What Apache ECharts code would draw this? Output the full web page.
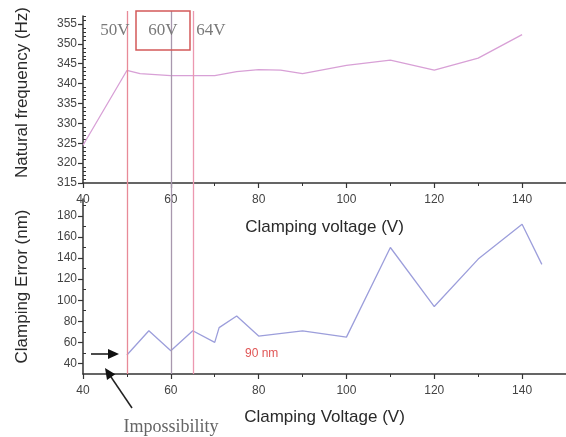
<!DOCTYPE html>
<html>
<head>
<meta charset="utf-8">
<script src="https://cdn.jsdelivr.net/npm/echarts@6/dist/echarts.min.js"></script>
<style>
html,body{margin:0;padding:0;background:#fff;}
#chart{width:566px;height:437px;}
</style>
</head>
<body>
<div id="chart"></div>
<script>
// ---- data ----
const freqVoltage = [40, 50, 53, 60, 70, 75, 80, 85, 90, 100, 110, 120, 130, 140];
const naturalFrequency = [324.5, 343.3, 342.5, 342, 342, 343, 343.5, 343.4, 342.5, 344.6, 345.9, 343.4, 346.4, 352.3];
const errVoltage = [50, 55, 60, 65, 70, 71, 75, 80, 90, 100, 110, 120, 130, 140, 144.5];
const clampingError = [48, 71, 52, 71, 60, 74, 85, 66, 71, 65, 150, 94, 139, 172, 134];
const markVoltages = [50, 60, 65];
const markLabels = ['50V', '60V', '64V'];
const xTicks = [40, 60, 80, 100, 120, 140];
const xMinorTicks = [50, 70, 90, 110, 130, 150];
const freqTicks = [315, 320, 325, 330, 335, 340, 345, 350, 355];
const freqMinorTicks = [316,317,318,319,321,322,323,324,326,327,328,329,331,332,333,334,336,337,338,339,341,342,343,344,346,347,348,349,351,352,353,354,356,357];
const errTicks = [40, 60, 80, 100, 120, 140, 160, 180];
const errMinorTicks = [50, 70, 90, 110, 130, 150, 170, 190];

const chart = echarts.init(document.getElementById('chart'));
const FONT = '"Liberation Sans", Arial, sans-serif';
const SERIF = '"Liberation Serif", "DejaVu Serif", serif';
const axisColor = '#333';
const markColors = ['#e88a98', '#a898ae', '#ec98b0'];

function majorX(gridIndex, name, gap) {
  return {
    type: 'value', gridIndex, min: 40, max: 150, position: 'bottom',
    name, nameLocation: 'middle', nameGap: gap,
    nameTextStyle: {fontFamily: FONT, fontSize: 17, color: '#2a2a2a'},
    axisLine: {show: true, onZero: false, lineStyle: {color: axisColor, width: 1.5}},
    axisTick: {show: true, length: 5, customValues: xTicks, lineStyle: {color: axisColor, width: 1.2}},
    axisLabel: {customValues: xTicks, margin: 11, fontFamily: FONT, fontSize: 12, color: '#444'},
    splitLine: {show: false}
  };
}
function minorX(gridIndex) {
  return {
    type: 'value', gridIndex, min: 40, max: 150, position: 'bottom',
    axisLine: {show: false, onZero: false},
    axisTick: {show: true, length: 3, customValues: xMinorTicks, lineStyle: {color: axisColor, width: 1}},
    axisLabel: {show: false},
    splitLine: {show: false}
  };
}
function majorY(gridIndex, min, max, ticks, name, pad) {
  return {
    type: 'value', gridIndex, min, max, position: 'left',
    name, nameLocation: 'middle', nameGap: 52, nameRotate: 90,
    nameTextStyle: {fontFamily: FONT, fontSize: 17, color: '#2a2a2a', padding: pad},
    axisLine: {show: true, onZero: false, lineStyle: {color: axisColor, width: 1.5}},
    axisTick: {show: true, length: 5, customValues: ticks, lineStyle: {color: axisColor, width: 1.2}},
    axisLabel: {customValues: ticks, margin: 6, fontFamily: FONT, fontSize: 12, color: '#444'},
    splitLine: {show: false}
  };
}
function minorY(gridIndex, min, max, ticks) {
  return {
    type: 'value', gridIndex, min, max, position: 'left',
    axisLine: {show: false, onZero: false},
    axisTick: {show: true, inside: true, length: 3, customValues: ticks, lineStyle: {color: axisColor, width: 1}},
    axisLabel: {show: false},
    splitLine: {show: false}
  };
}

const option = {
  backgroundColor: '#fff',
  animation: false,
  grid: [
    {left: 83, right: 0, top: 16, height: 167},
    {left: 83, right: 0, top: 199, height: 175},
    {left: 83, right: 0, top: 11, height: 363}
  ],
  xAxis: [
    majorX(0, 'Clamping voltage (V)', 36),
    minorX(0),
    majorX(1, 'Clamping Voltage (V)', 35),
    minorX(1),
    {type: 'value', gridIndex: 2, min: 40, max: 150, show: false}
  ],
  yAxis: [
    majorY(0, 315, 357, freqTicks, 'Natural frequency (Hz)', [0, 0, 0, 14]),
    minorY(0, 315, 357, freqMinorTicks),
    majorY(1, 30, 196, errTicks, 'Clamping Error (nm)', 0),
    minorY(1, 30, 196, errMinorTicks),
    {type: 'value', gridIndex: 2, min: 0, max: 1, show: false}
  ],
  series: [
    {
      type: 'line', xAxisIndex: 0, yAxisIndex: 0, showSymbol: false, silent: true,
      data: freqVoltage.map((v, i) => [v, naturalFrequency[i]]),
      lineStyle: {color: '#d8a0d6', width: 1.3}
    },
    {
      type: 'line', xAxisIndex: 2, yAxisIndex: 2, showSymbol: false, silent: true,
      data: errVoltage.map((v, i) => [v, clampingError[i]]),
      lineStyle: {color: '#9c9edb', width: 1.3}
    },
    ...markVoltages.map((v, i) => ({
      type: 'line', xAxisIndex: 4, yAxisIndex: 4, data: [], silent: true,
      color: markColors[i],
      itemStyle: {color: markColors[i]},
      lineStyle: {color: markColors[i]},
      markLine: {
        silent: true, symbol: ['none', 'none'], animation: false,
        label: {show: false},
        itemStyle: {color: markColors[i]},
        lineStyle: {type: 'solid', width: 1.3, color: markColors[i], opacity: 1},
        emphasis: {disabled: true},
        data: [[{coord: [v, 0]}, {coord: [v, 1]}]]
      }
    }))
  ],
  graphic: [
    {type: 'rect', shape: {x: 136, y: 11, width: 54, height: 39},
     style: {fill: 'none', stroke: '#d35a5a', lineWidth: 1.5}, z: 10},
    ...markLabels.map((t, i) => ({
      type: 'text', x: [115, 163, 211][i], y: 31,
      style: {text: t, font: '17px ' + SERIF, fill: '#7a7a7a', align: 'center', verticalAlign: 'middle'}, z: 10
    })),
    {type: 'text', x: 245, y: 354,
     style: {text: '90 nm', font: '12px ' + FONT, fill: '#e05555', align: 'left', verticalAlign: 'middle'}, z: 10},
    {type: 'line', shape: {x1: 91, y1: 354, x2: 110, y2: 354}, style: {stroke: '#111', lineWidth: 1.5}, z: 10},
    {type: 'polygon', shape: {points: [[119, 354], [108, 349], [108, 359]]}, style: {fill: '#111'}, z: 10},
    {type: 'line', shape: {x1: 132, y1: 408, x2: 109, y2: 374}, style: {stroke: '#222', lineWidth: 1.5}, z: 10},
    {type: 'polygon', shape: {points: [[105, 368], [115.3, 374.3], [107, 379.9]]}, style: {fill: '#111'}, z: 10},
    {type: 'text', x: 171, y: 427,
     style: {text: 'Impossibility', font: '18px ' + SERIF, fill: '#666', align: 'center', verticalAlign: 'middle'}, z: 10}
  ]
};
chart.setOption(option);
</script>
</body>
</html>
